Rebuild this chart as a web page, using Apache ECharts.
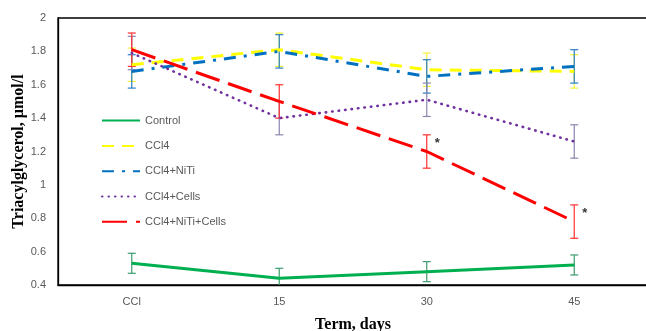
<!DOCTYPE html>
<html><head><meta charset="utf-8">
<script src="https://cdn.jsdelivr.net/npm/echarts@6/dist/echarts.min.js"></script>
<style>html,body{margin:0;padding:0;background:#fff}#c{width:646px;height:331px}</style>
</head><body><div id="c"></div>
<script>
// ---- data ----
const categories = ['CCl', '15', '30', '45'];
const seriesNames = ['Control', 'CCl4', 'CCl4+NiTi', 'CCl4+Cells', 'CCl4+NiTi+Cells'];
const control = [0.53, 0.44, 0.48, 0.52];
const controlErr = [0.06, 0.06, 0.06, 0.06];
const ccl4 = [1.72, 1.81, 1.69, 1.68];
const ccl4Err = [0.10, 0.10, 0.10, 0.10];
const ccl4NiTi = [1.68, 1.80, 1.65, 1.71];
const ccl4NiTiErr = [0.10, 0.10, 0.10, 0.10];
const ccl4Cells = [1.79, 1.40, 1.51, 1.26];
const ccl4CellsErr = [0.10, 0.10, 0.10, 0.10];
const ccl4NiTiCells = [1.81, 1.50, 1.20, 0.78];
const ccl4NiTiCellsErr = [0.10, 0.10, 0.10, 0.10];
const significance = ['', '', '*', '*'];
const yMin = 0.4, yMax = 2, yStep = 0.2;

// ---- styles ----
const lineColors = ['#00B050', '#FFFF00', '#0070C0', '#7030A0', '#FF0000'];
const errColors = ['#3C9C6C', '#F2F23A', '#2A7CC4', '#8A84B0', '#FF3030'];
const dashes = ['solid', [12, 8], [12, 8, 3, 8], [0.5, 6], [25, 9]];
const caps = ['butt', 'butt', 'butt', 'round', 'butt'];
const widths = [3, 3, 3, 2.6, 3];

const values = [control, ccl4, ccl4NiTi, ccl4Cells, ccl4NiTiCells];
const errors = [controlErr, ccl4Err, ccl4NiTiErr, ccl4CellsErr, ccl4NiTiCellsErr];

function errorSeries(idx) {
  const color = errColors[idx];
  return {
    type: 'custom', name: 'err' + idx, silent: true, z: 1, clip: true,
    data: values[idx].map((v, i) => [i, v - errors[idx][i], v + errors[idx][i]]),
    renderItem(params, api) {
      const x = api.value(0);
      const lo = api.coord([x, api.value(1)]);
      const hi = api.coord([x, api.value(2)]);
      const w = 4;
      const st = { stroke: color, lineWidth: 1.2 };
      return { type: 'group', children: [
        { type: 'line', shape: { x1: hi[0], y1: hi[1], x2: lo[0], y2: lo[1] }, style: st },
        { type: 'line', shape: { x1: hi[0] - w, y1: hi[1], x2: hi[0] + w, y2: hi[1] }, style: st },
        { type: 'line', shape: { x1: lo[0] - w, y1: lo[1], x2: lo[0] + w, y2: lo[1] }, style: st }
      ]};
    }
  };
}

const series = [];
values.forEach((v, i) => series.push(errorSeries(i)));
values.forEach((v, i) => series.push({
  type: 'line', name: seriesNames[i], data: v, symbol: 'none', z: 3,
  lineStyle: { color: lineColors[i], width: widths[i], type: dashes[i], cap: caps[i] },
  itemStyle: { color: lineColors[i] }
}));
series.push({
  type: 'scatter', name: 'sig', symbolSize: 0, silent: true, z: 4,
  data: significance.map((s, i) => s ? [i, ccl4NiTiCells[i] + ccl4NiTiCellsErr[i], s] : null).filter(d => d),
  label: { show: true, position: 'right', distance: 0, offset: [8, 9], formatter: p => p.value[2],
           color: '#000', fontSize: 13, fontWeight: 'bold', fontFamily: 'Liberation Sans' }
});

const chart = echarts.init(document.getElementById('c'), null, { renderer: 'canvas' });
chart.setOption({
  animation: false,
  backgroundColor: '#fff',
  grid: { left: 58, top: 18, right: -2, bottom: 46, show: true, borderColor: '#000', borderWidth: 1.3,
          backgroundColor: 'transparent', outerBoundsMode: 'none', containLabel: false },
  legend: {
    data: seriesNames, orient: 'vertical', left: 101, top: 115, padding: 0, itemWidth: 38, itemHeight: 14, itemGap: 14.1,
    itemStyle: { opacity: 0 },
    textStyle: { color: '#595959', fontSize: 11, fontFamily: 'Liberation Sans' }
  },
  xAxis: {
    type: 'category', data: categories, boundaryGap: true,
    axisLine: { lineStyle: { color: '#000', width: 1.3 } }, axisTick: { show: false },
    axisLabel: { color: '#595959', fontSize: 11, fontFamily: 'Liberation Sans', margin: 11 },
    name: 'Term, days', nameLocation: 'middle', nameGap: 32, nameMoveOverlap: false,
    nameTextStyle: { fontFamily: 'Liberation Serif', fontWeight: 'bold', fontSize: 16, color: '#000' }
  },
  yAxis: {
    type: 'value', min: yMin, max: yMax, interval: yStep,
    axisLine: { show: true, lineStyle: { color: '#000', width: 1.3 } }, axisTick: { show: false },
    splitLine: { show: false },
    axisLabel: { color: '#595959', fontSize: 11, fontFamily: 'Liberation Sans', margin: 12 },
    name: 'Triacylglycerol, µmol/l', nameLocation: 'middle', nameGap: 31, nameMoveOverlap: false,
    nameTextStyle: { fontFamily: 'Liberation Serif', fontWeight: 'bold', fontSize: 16, color: '#000' }
  },
  series: series
});
</script></body></html>
